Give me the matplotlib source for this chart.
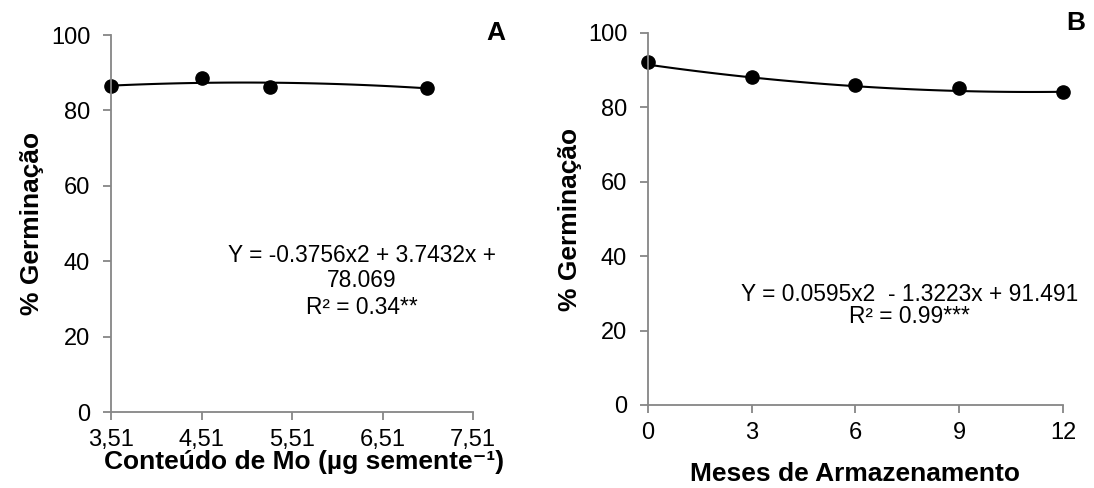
import numpy as np
import matplotlib.pyplot as plt

plt.rcParams['font.family'] = ['Liberation Sans', 'DejaVu Sans']

# Panel A: germination vs Mo content
mo_x = [3.51, 4.51, 5.27, 7.00]
mo_y = [86.4, 88.5, 86.3, 85.9]
mo_coef = [-0.3756, 3.7432, 78.069]
mo_ticks = [3.51, 4.51, 5.51, 6.51, 7.51]
mo_ticklabels = ['3,51', '4,51', '5,51', '6,51', '7,51']
mo_eq = ['Y = -0.3756x2 + 3.7432x +', '78.069', 'R² = 0.34**']

# Panel B: germination vs storage months
st_x = [0, 3, 6, 9, 12]
st_y = [92.1, 88.2, 85.9, 85.1, 84.2]
st_coef = [0.0595, -1.3223, 91.491]
st_eq = ['Y = 0.0595x2  - 1.3223x + 91.491', 'R² = 0.99***']

y_ticks = [0, 20, 40, 60, 80, 100]

gray = '#868686'

fig = plt.figure(figsize=(10.94, 4.88), dpi=100)
axA = fig.add_axes([0.1015, 0.1557, 0.3309, 0.7725])
axB = fig.add_axes([0.5923, 0.1701, 0.3793, 0.7623])


def style(ax):
    for s in ['top', 'right']:
        ax.spines[s].set_visible(False)
    for s in ['left', 'bottom']:
        ax.spines[s].set_color(gray)
        ax.spines[s].set_linewidth(1.3)
    ax.tick_params(direction='out', length=6, width=1.3, color=gray,
                   labelsize=17)
    ax.tick_params(axis='y', pad=9)
    ax.tick_params(axis='x', pad=6)
    ax.set_ylim(0, 100)
    ax.set_yticks(y_ticks)
    ax.set_ylabel('% Germinação', fontsize=19, fontweight='bold')


# A
style(axA)
xs = np.linspace(mo_x[0], mo_x[-1], 100)
axA.plot(xs, np.polyval(mo_coef, xs), color='black', lw=1.5)
axA.plot(mo_x, mo_y, 'o', color='black', ms=9.5, clip_on=False)
axA.set_xlim(3.51, 7.51)
axA.set_xticks(mo_ticks)
axA.set_xticklabels(mo_ticklabels)
axA.set_xlabel('Conteúdo de Mo (µg semente⁻¹)', fontsize=19,
               fontweight='bold')
axA.xaxis.set_label_coords(0.533, -0.102)
axA.yaxis.set_label_coords(-0.185, 0.5)
for txt, yy in zip(mo_eq, [0.4164, 0.3501, 0.2785]):
    axA.text(0.693, yy, txt, transform=axA.transAxes, ha='center',
             va='center', fontsize=16.4)
axA.text(1.064, 1.006, 'A', transform=axA.transAxes, ha='center',
         va='center', fontsize=19, fontweight='bold')

# B
style(axB)
xs = np.linspace(st_x[0], st_x[-1], 100)
axB.plot(xs, np.polyval(st_coef, xs), color='black', lw=1.5)
axB.plot(st_x, st_y, 'o', color='black', ms=9.5, clip_on=False)
axB.set_xlim(0, 12)
axB.set_xticks(st_x)
axB.set_xlabel('Meses de Armazenamento', fontsize=19, fontweight='bold')
axB.xaxis.set_label_coords(0.5, -0.152)
axB.yaxis.set_label_coords(-0.158, 0.5)
for txt, yy in zip(st_eq, [0.2957, 0.2392]):
    axB.text(0.631, yy, txt, transform=axB.transAxes, ha='center',
             va='center', fontsize=16.4)
axB.text(1.031, 1.027, 'B', transform=axB.transAxes, ha='center',
         va='center', fontsize=19, fontweight='bold')

fig.savefig('out.png', dpi=100)
